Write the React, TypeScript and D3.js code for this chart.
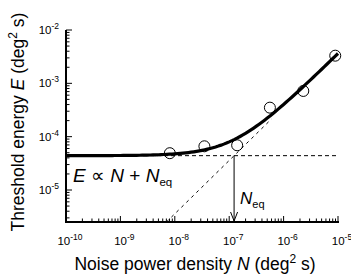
import React from 'react';
import * as d3 from 'd3';

// measured thresholds (deg^2 s) vs noise power density (deg^2 s)
const noiseN = [8.1e-9, 3.5e-8, 1.4e-7, 5.6e-7, 2.3e-6, 8.9e-6];
const energyE = [4.9e-5, 6.6e-5, 6.9e-5, 3.5e-4, 7.2e-4, 3.3e-3];

// fit E = k (N + Neq)
const Neq = 1.23e-7;
const kFit = 358;

const xTickExps = [-10, -9, -8, -7, -6, -5];
const yTickExps = [-5, -4, -3, -2];

const W = 351;
const H = 275;
const font = 'Liberation Sans, Arial, sans-serif';

const App: React.FC = () => {
  const x = d3.scaleLog().domain([1e-10, 1e-5]).range([66, 338]);
  const y = d3.scaleLog().domain([Math.pow(10, -5.6), 1e-2]).range([222, 30]);

  // curve samples along log N
  const curveN = d3.range(-10, -4.99, 0.05).map(e => Math.pow(10, e));
  const line = d3.line<number>()
    .x(n => x(n))
    .y(n => y(kFit * (n + Neq)));

  const yMin = Math.pow(10, -5.6);
  const diagStart = yMin / kFit;
  const diagEnd = 6e-7;

  // minor ticks
  const xMinor: number[] = [];
  for (let e = -10; e < -5; e++) for (let m = 2; m <= 9; m++) xMinor.push(m * Math.pow(10, e));
  const yMinor: number[] = [];
  for (let e = -6; e < -2; e++) for (let m = 2; m <= 9; m++) {
    const v = m * Math.pow(10, e);
    if (v >= yMin && v <= 1e-2) yMinor.push(v);
  }

  const plateau = kFit * Neq;

  return (
    <div style={{ position: 'absolute', left: 0, top: 0 }}>
      <svg width={W} height={H} style={{ display: 'block', background: '#fff' }} fontFamily={font}>
        {/* dashed guide lines */}
        <line x1={x(1e-10)} x2={x(1e-5)} y1={y(plateau)} y2={y(plateau)}
          stroke="#000" strokeWidth={1} strokeDasharray="4,3" />
        <line x1={x(diagStart)} y1={y(kFit * diagStart)} x2={x(diagEnd)} y2={y(kFit * diagEnd)}
          stroke="#000" strokeWidth={1} strokeDasharray="3,4" />

        {/* Neq arrow */}
        <line x1={x(Neq)} x2={x(Neq)} y1={y(plateau)} y2={221} stroke="#000" strokeWidth={1} />
        <path d={`M${x(Neq) - 3.5},${212} L${x(Neq)},${221} L${x(Neq) + 3.5},${212}`}
          fill="none" stroke="#000" strokeWidth={1} />

        {/* fit curve */}
        <path d={line(curveN) || ''} fill="none" stroke="#000" strokeWidth={3.2} />

        {/* data */}
        {noiseN.map((n, i) => (
          <circle key={i} cx={x(n)} cy={y(energyE[i])} r={5.5} fill="none" stroke="#000" strokeWidth={1} />
        ))}

        {/* axes */}
        <line x1={66} x2={66} y1={y(1e-2)} y2={223} stroke="#000" strokeWidth={2} />
        <line x1={65} x2={x(1e-5) + 1} y1={222} y2={222} stroke="#000" strokeWidth={2} />

        {yTickExps.map(e => (
          <line key={'ym' + e} x1={66} x2={72} y1={y(Math.pow(10, e))} y2={y(Math.pow(10, e))} stroke="#000" strokeWidth={1} />
        ))}
        {yMinor.map((v, i) => (
          <line key={'yn' + i} x1={66} x2={69.5} y1={y(v)} y2={y(v)} stroke="#000" strokeWidth={1} />
        ))}
        {xTickExps.map(e => (
          <line key={'xm' + e} x1={x(Math.pow(10, e))} x2={x(Math.pow(10, e))} y1={222} y2={216} stroke="#000" strokeWidth={1} />
        ))}
        {xMinor.map((v, i) => (
          <line key={'xn' + i} x1={x(v)} x2={x(v)} y1={222} y2={218.5} stroke="#000" strokeWidth={1} />
        ))}

        {/* tick labels */}
        {yTickExps.map(e => (
          <text key={'yl' + e} x={59} y={y(Math.pow(10, e)) + 4} textAnchor="end" fontSize={11.5}>
            10<tspan dy={-5} fontSize={8.5}>{String(e)}</tspan>
          </text>
        ))}
        {xTickExps.map(e => (
          <text key={'xl' + e} x={x(Math.pow(10, e)) + 4} y={245} textAnchor="middle" fontSize={11.5}>
            10<tspan dy={-5} fontSize={8.5}>{String(e)}</tspan>
          </text>
        ))}

        {/* annotations */}
        <text x={73} y={182} fontSize={19}>
          <tspan fontStyle="italic">E</tspan> ∝ <tspan fontStyle="italic">N</tspan> + <tspan fontStyle="italic">N</tspan>
          <tspan dy={4} fontSize={11.5}>eq</tspan>
        </text>
        <text x={240} y={204} fontSize={17}>
          <tspan fontStyle="italic">N</tspan>
          <tspan dy={4} fontSize={11}>eq</tspan>
        </text>

        {/* axis titles */}
        <text x={195} y={270} textAnchor="middle" fontSize={17.5}>
          Noise power density <tspan fontStyle="italic">N</tspan> (deg<tspan dy={-7} fontSize={12}>2</tspan><tspan dy={7}> s)</tspan>
        </text>
        <text transform={`translate(24,122) rotate(-90)`} textAnchor="middle" fontSize={17.5}>
          Threshold energy <tspan fontStyle="italic">E</tspan> (deg<tspan dy={-7} fontSize={12}>2</tspan><tspan dy={7}> s)</tspan>
        </text>
      </svg>
    </div>
  );
};

export default App;
